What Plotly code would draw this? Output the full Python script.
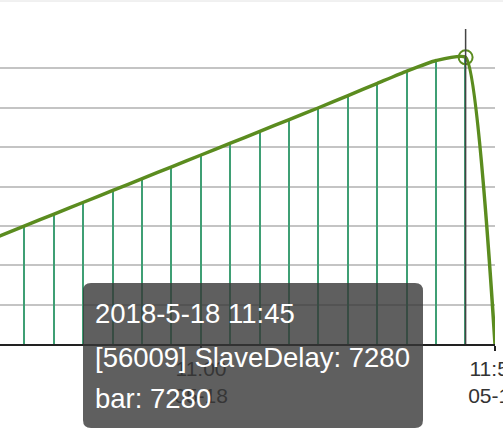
import plotly.graph_objects as go

# slave delay sampled every 5 minutes (seconds)
times = [
    "2018-05-18 10:25", "2018-05-18 10:30", "2018-05-18 10:35", "2018-05-18 10:40",
    "2018-05-18 10:45", "2018-05-18 10:50", "2018-05-18 10:55", "2018-05-18 11:00",
    "2018-05-18 11:05", "2018-05-18 11:10", "2018-05-18 11:15", "2018-05-18 11:20",
    "2018-05-18 11:25", "2018-05-18 11:30", "2018-05-18 11:35", "2018-05-18 11:40",
    "2018-05-18 11:45", "2018-05-18 11:50",
]
slave_delay = [2700, 3000, 3300, 3600, 3900, 4200, 4500, 4800, 5100, 5400,
               5700, 6000, 6310, 6620, 6930, 7200, 7280, 0]

tick_vals = ["2018-05-18 11:00", "2018-05-18 11:50"]
tick_text = ["11:00<br>05-18", "11:50<br>05-18"]

hover_idx = 16
instance = "56009"

W, H = 503, 429
ML, MR, MT, MB = 0, 8, 29, 85
PW, PH = W - ML - MR, H - MT - MB

FONT = "Liberation Sans, Arial, sans-serif"
LINE_COLOR = "#5b8c1f"
BAR_COLOR = "#3f9f74"


def px(x):
    return (x - ML) / PW


def py(y):
    return (H - MB - y) / PH


def rounded_box(x0, y0, x1, y1, r):
    # path in paper coords, pixel inputs
    pts = [
        f"M {px(x0 + r)},{py(y0)}",
        f"L {px(x1 - r)},{py(y0)}",
        f"Q {px(x1)},{py(y0)} {px(x1)},{py(y0 + r)}",
        f"L {px(x1)},{py(y1 - r)}",
        f"Q {px(x1)},{py(y1)} {px(x1 - r)},{py(y1)}",
        f"L {px(x0 + r)},{py(y1)}",
        f"Q {px(x0)},{py(y1)} {px(x0)},{py(y1 - r)}",
        f"L {px(x0)},{py(y0 + r)}",
        f"Q {px(x0)},{py(y0)} {px(x0 + r)},{py(y0)}",
        "Z",
    ]
    return " ".join(pts)


fig = go.Figure()

fig.add_trace(go.Bar(
    x=times, y=slave_delay, width=15000,
    marker=dict(color=BAR_COLOR, line_width=0),
    name="bar",
))
fig.add_trace(go.Scatter(
    x=times, y=slave_delay, mode="lines",
    line=dict(color=LINE_COLOR, width=3.5, shape="spline", smoothing=0.45),
    name="SlaveDelay", cliponaxis=False,
))
fig.add_trace(go.Scatter(
    x=[times[hover_idx]], y=[slave_delay[hover_idx]], mode="markers",
    marker=dict(symbol="circle-open", size=14, color=LINE_COLOR, line_width=2),
    cliponaxis=False,
))

# hover crosshair
fig.add_shape(type="line", xref="x", yref="y",
              x0=times[hover_idx], x1=times[hover_idx], y0=0, y1=8000,
              line=dict(color="#444444", width=1.5), layer="above")

# faint border at very top
fig.add_shape(type="line", xref="paper", yref="paper",
              x0=px(0), x1=px(W), y0=py(1), y1=py(1),
              line=dict(color="#e2e2e2", width=1))

# tooltip
fig.add_shape(type="path", xref="paper", yref="paper",
              path=rounded_box(83, 283, 423, 428, 8),
              fillcolor="rgba(55,55,55,0.8)", line_width=0, layer="above")

hh, mm = times[hover_idx][11:].split(":")
tip_lines = [
    f"2018-5-18 {hh}:{mm}",
    f"[{instance}] SlaveDelay: {slave_delay[hover_idx]}",
    f"bar: {slave_delay[hover_idx]}",
]
for txt, yc in zip(tip_lines, [313, 357, 398]):
    fig.add_annotation(x=px(93), y=py(yc), xref="paper", yref="paper",
                       text=txt, showarrow=False, xanchor="left", yanchor="middle",
                       font=dict(family=FONT, size=27.5, color="white"))

fig.update_layout(
    width=W, height=H,
    margin=dict(l=ML, r=MR, t=MT, b=MB, autoexpand=False),
    paper_bgcolor="white", plot_bgcolor="white",
    showlegend=False, bargap=0,
    font=dict(family=FONT),
)
fig.update_xaxes(
    type="date",
    range=["2018-05-18 10:25:48", "2018-05-18 11:50:00"],
    tickvals=tick_vals, ticktext=tick_text,
    showgrid=False, showline=True, linecolor="#222", linewidth=1.5,
    ticks="outside", ticklen=5, tickcolor="#222", tickwidth=1.5,
    tickfont=dict(size=21, color="#333"),
    ticklabeloverflow="allow", automargin=False,
)
fig.update_yaxes(
    range=[0, 8000], dtick=1000,
    showgrid=True, gridcolor="#c4c4c4", gridwidth=1.5,
    showticklabels=False, zeroline=False, showline=False,
)

# drop the browser's default body margin so the chart sits at the corner
fig.write_html("out.html", config={"displayModeBar": False},
               post_script="document.body.style.margin='0';")
